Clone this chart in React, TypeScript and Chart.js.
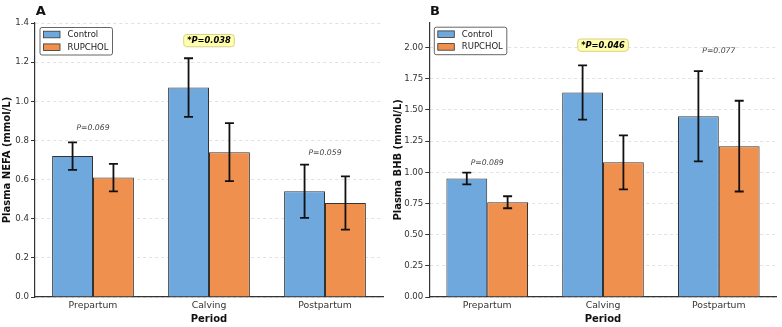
import React, { useEffect, useRef } from 'react';
import { Chart, registerables } from 'chart.js';

Chart.register(...registerables);

const FONT = '"DejaVu Sans", Verdana, sans-serif';

const categories = ['Prepartum', 'Calving', 'Postpartum'];
const seriesNames = ['Control', 'RUPCHOL'];

// Panel A: NEFA
const nefaControl = [0.72, 1.07, 0.54];
const nefaControlSD = [0.07, 0.15, 0.136];
const nefaRupchol = [0.61, 0.74, 0.48];
const nefaRupcholSD = [0.07, 0.148, 0.136];
const nefaPLabels = ['P=0.069', '*P=0.038', 'P=0.059'];
const nefaPValueY = [0.864, 1.31, 0.736];
const nefaSignificant = [false, true, false];

// Panel B: BHB
const bhbControl = [0.95, 1.64, 1.45];
const bhbControlSD = [0.047, 0.217, 0.362];
const bhbRupchol = [0.76, 1.08, 1.21];
const bhbRupcholSD = [0.048, 0.217, 0.364];
const bhbPLabels = ['P=0.089', '*P=0.046', 'P=0.077'];
const bhbPValueY = [1.071, 2.02, 1.973];
const bhbSignificant = [false, true, false];

const CONTROL_COLOR = '#6FA8DC';
const RUP_COLOR = '#F0904F';
const EDGE = '#333333';

type PanelProps = {
  letter: string;
  yTitle: string;
  control: number[];
  controlSD: number[];
  rup: number[];
  rupSD: number[];
  pLabels: string[];
  pY: number[];
  sig: boolean[];
  yMax: number;
  yStep: number;
  decimals: number;
  yAxisWidth: number;
  padRight: number;
  padTop: number;
};

function roundRect(ctx: CanvasRenderingContext2D, x: number, y: number, w: number, h: number, r: number) {
  ctx.beginPath();
  ctx.moveTo(x + r, y);
  ctx.lineTo(x + w - r, y);
  ctx.arcTo(x + w, y, x + w, y + r, r);
  ctx.lineTo(x + w, y + h - r);
  ctx.arcTo(x + w, y + h, x + w - r, y + h, r);
  ctx.lineTo(x + r, y + h);
  ctx.arcTo(x, y + h, x, y + h - r, r);
  ctx.lineTo(x, y + r);
  ctx.arcTo(x, y, x + r, y, r);
  ctx.closePath();
}

function Panel(p: PanelProps) {
  const ref = useRef<HTMLCanvasElement>(null);
  useEffect(() => {
    if (!ref.current) return;
    const errs = [p.controlSD, p.rupSD];
    const colors = [CONTROL_COLOR, RUP_COLOR];
    const plugin = {
      id: 'extras' + p.letter,
      afterDatasetsDraw(chart: any) {
        const ctx: CanvasRenderingContext2D = chart.ctx;
        const ys = chart.scales.y;
        ctx.save();
        ctx.strokeStyle = '#111';
        ctx.lineWidth = 1.8;
        chart.data.datasets.forEach((ds: any, i: number) => {
          const meta = chart.getDatasetMeta(i);
          meta.data.forEach((el: any, j: number) => {
            const v = ds.data[j];
            const sd = errs[i][j];
            const yt = ys.getPixelForValue(v + sd);
            const yb = ys.getPixelForValue(v - sd);
            const cw = 4.5;
            ctx.beginPath();
            ctx.moveTo(el.x, yt);
            ctx.lineTo(el.x, yb);
            ctx.moveTo(el.x - cw, yt);
            ctx.lineTo(el.x + cw, yt);
            ctx.moveTo(el.x - cw, yb);
            ctx.lineTo(el.x + cw, yb);
            ctx.stroke();
          });
        });
        ctx.restore();
      },
      afterDraw(chart: any) {
        const ctx: CanvasRenderingContext2D = chart.ctx;
        const a = chart.chartArea;
        const xs = chart.scales.x;
        const ys = chart.scales.y;
        ctx.save();
        // panel letter
        ctx.fillStyle = '#111';
        ctx.font = `bold 13px ${FONT}`;
        ctx.textAlign = 'left';
        ctx.textBaseline = 'middle';
        ctx.fillText(p.letter, a.left + 0.8, 12);

        // legend
        const bx = a.left + 5;
        const by = a.top + 4.5;
        const bw = 72.5;
        const bh = 27.5;
        roundRect(ctx, bx, by, bw, bh, 2);
        ctx.fillStyle = 'rgba(255,255,255,0.92)';
        ctx.fill();
        ctx.strokeStyle = '#555';
        ctx.lineWidth = 0.9;
        ctx.stroke();
        seriesNames.forEach((name, i) => {
          const cy = by + 7 + i * 12.7;
          ctx.fillStyle = colors[i];
          ctx.fillRect(bx + 3.5, cy - 3.3, 16.5, 6.6);
          ctx.strokeStyle = EDGE;
          ctx.lineWidth = 0.8;
          ctx.strokeRect(bx + 3.5, cy - 3.3, 16.5, 6.6);
          ctx.fillStyle = '#222';
          ctx.font = `8.5px ${FONT}`;
          ctx.textAlign = 'left';
          ctx.textBaseline = 'middle';
          ctx.fillText(name, bx + 27.5, cy + 0.3);
        });

        // p-value labels
        p.pLabels.forEach((lab, j) => {
          const x = xs.getPixelForValue(j);
          const y = ys.getPixelForValue(p.pY[j]);
          ctx.textAlign = 'center';
          ctx.textBaseline = 'middle';
          if (p.sig[j]) {
            ctx.font = `italic bold 8.3px ${FONT}`;
            const w = ctx.measureText(lab).width + 7;
            const h = 12.3;
            roundRect(ctx, x - w / 2, y - h / 2, w, h, 3);
            ctx.fillStyle = 'rgba(255,255,160,0.85)';
            ctx.fill();
            ctx.strokeStyle = '#d6cc7a';
            ctx.lineWidth = 0.9;
            ctx.stroke();
            ctx.fillStyle = '#000';
            ctx.fillText(lab, x, y + 0.3);
          } else {
            ctx.font = `italic 7.7px ${FONT}`;
            ctx.fillStyle = '#444';
            ctx.fillText(lab, x, y);
          }
        });
        ctx.restore();
      },
    };

    const chart = new Chart(ref.current, {
      type: 'bar',
      data: {
        labels: categories,
        datasets: [
          {
            label: seriesNames[0],
            data: p.control,
            backgroundColor: CONTROL_COLOR,
            borderColor: EDGE,
            borderWidth: 1,
            categoryPercentage: 0.705,
            barPercentage: 1.0,
          },
          {
            label: seriesNames[1],
            data: p.rup,
            backgroundColor: RUP_COLOR,
            borderColor: EDGE,
            borderWidth: 1,
            categoryPercentage: 0.705,
            barPercentage: 1.0,
          },
        ],
      },
      options: {
        animation: false,
        responsive: true,
        maintainAspectRatio: false,
        layout: { padding: { top: p.padTop, right: p.padRight, left: 0, bottom: 0 } },
        plugins: {
          legend: { display: false },
          tooltip: { enabled: false },
        },
        scales: {
          x: {
            afterFit: (s: any) => {
              s.height = 30;
            },
            grid: { display: false, drawTicks: false },
            border: { display: true, color: EDGE, width: 1.2 },
            ticks: { color: '#333', font: { family: FONT, size: 9.3 }, padding: 3.5 },
            title: {
              display: true,
              text: 'Period',
              color: '#111',
              font: { family: FONT, size: 10, weight: 'bold' },
              padding: { top: 0, bottom: 1.7 },
            },
          },
          y: {
            min: 0,
            max: p.yMax,
            bounds: 'data',
            afterFit: (s: any) => {
              s.width = p.yAxisWidth;
            },
            afterBuildTicks: (s: any) => {
              s.ticks = s.ticks.filter((t: any) => {
                const k = t.value / p.yStep;
                return Math.abs(k - Math.round(k)) < 1e-6 && t.value <= p.yMax + 1e-9;
              });
            },
            grid: {
              color: '#dadada',
              lineWidth: 0.8,
              drawTicks: true,
              tickLength: 4,
              tickColor: EDGE,
              tickWidth: 1,
              tickBorderDash: [],
            },
            border: { display: true, color: EDGE, width: 1.2, dash: [3, 3] },
            ticks: {
              stepSize: p.yStep,
              color: '#333',
              padding: 2,
              font: { family: FONT, size: 8.6 },
              callback: (v: any) => Number(v).toFixed(p.decimals),
            },
            title: {
              display: true,
              text: p.yTitle,
              color: '#111',
              font: { family: FONT, size: 10, weight: 'bold' },
              padding: { top: 1.5, bottom: 0 },
            },
          },
        },
      },
      plugins: [plugin],
    } as any);
    return () => chart.destroy();
  }, []);
  return (
    <div style={{ position: 'relative', width: 391, height: 327 }}>
      <canvas ref={ref} />
    </div>
  );
}

export default function App() {
  useEffect(() => {
    document.body.style.margin = '0';
    document.body.style.background = '#fff';
  }, []);
  return (
    <div style={{ display: 'flex', width: 782, height: 327, background: '#fff' }}>
      <Panel
        letter="A"
        yTitle="Plasma NEFA (mmol/L)"
        control={nefaControl}
        controlSD={nefaControlSD}
        rup={nefaRupchol}
        rupSD={nefaRupcholSD}
        pLabels={nefaPLabels}
        pY={nefaPValueY}
        sig={nefaSignificant}
        yMax={1.4}
        yStep={0.2}
        decimals={1}
        yAxisWidth={35}
        padRight={8}
        padTop={23}
      />
      <Panel
        letter="B"
        yTitle="Plasma BHB (mmol/L)"
        control={bhbControl}
        controlSD={bhbControlSD}
        rup={bhbRupchol}
        rupSD={bhbRupcholSD}
        pLabels={bhbPLabels}
        pY={bhbPValueY}
        sig={bhbSignificant}
        yMax={2.2}
        yStep={0.25}
        decimals={2}
        yAxisWidth={38.3}
        padRight={5.3}
        padTop={22.7}
      />
    </div>
  );
}
